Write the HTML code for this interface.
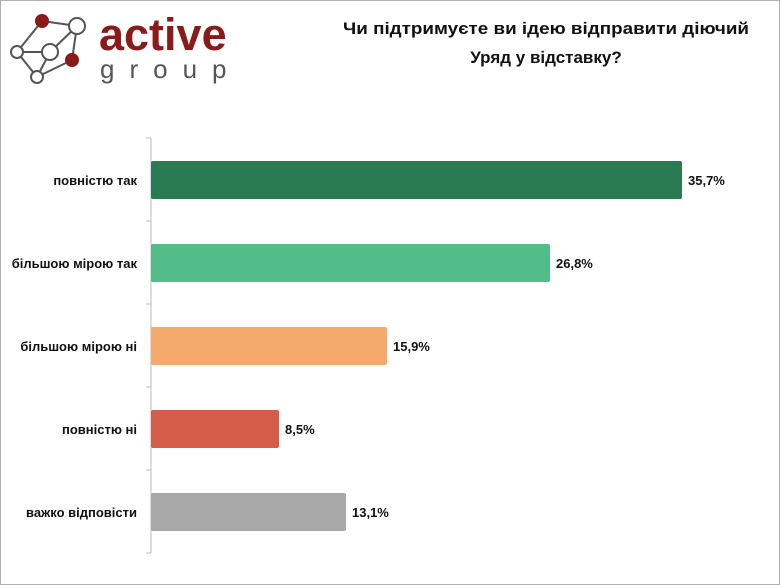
<!DOCTYPE html>
<html><head><meta charset="utf-8"><style>
body{margin:0;width:780px;height:585px;overflow:hidden;background:#fff;font-family:"Liberation Sans","DejaVu Sans",sans-serif;}
.frame{position:absolute;left:0;top:0;width:778px;height:583px;border:1px solid #b0b0b0;}
</style></head><body>
<div class="frame"></div>
<svg width="780" height="585" style="position:absolute;left:0;top:0">
<g stroke="#555" stroke-width="2" fill="#fff">
<line x1="42" y1="21" x2="77" y2="26"/><line x1="42" y1="21" x2="17" y2="52"/><line x1="77" y1="26" x2="72" y2="60"/>
<line x1="77" y1="26" x2="50" y2="52"/><line x1="17" y1="52" x2="50" y2="52"/><line x1="17" y1="52" x2="37" y2="77"/>
<line x1="50" y1="52" x2="37" y2="77"/><line x1="72" y1="60" x2="37" y2="77"/>
<circle cx="77" cy="26" r="8"/><circle cx="50" cy="52" r="8"/><circle cx="17" cy="52" r="6"/><circle cx="37" cy="77" r="6"/>
<circle cx="42" cy="21" r="6" fill="#8b1a1a" stroke="#8b1a1a"/><circle cx="72" cy="60" r="6" fill="#8b1a1a" stroke="#8b1a1a"/>
</g>
<text x="99" y="50" font-family="Liberation Sans" font-weight="bold" font-size="45" fill="#8b1a1a">active</text>
<text x="100" y="78" font-family="Liberation Sans" font-size="26" fill="#555" letter-spacing="15">group</text>
<line x1="151" y1="138" x2="151" y2="553" stroke="#bbb" stroke-width="1"/>
<g stroke="#bbb"><line x1="146" y1="138" x2="151" y2="138"/><line x1="146" y1="221" x2="151" y2="221"/><line x1="146" y1="304" x2="151" y2="304"/><line x1="146" y1="387" x2="151" y2="387"/><line x1="146" y1="470" x2="151" y2="470"/><line x1="146" y1="553" x2="151" y2="553"/></g>
<rect x="151" y="161" width="531" height="38" rx="2" fill="#2a7a52"/>
<rect x="151" y="244" width="399" height="38" rx="2" fill="#52bd88"/>
<rect x="151" y="327" width="236" height="38" rx="2" fill="#f3aa6a"/>
<rect x="151" y="410" width="128" height="38" rx="2" fill="#d45c48"/>
<rect x="151" y="493" width="195" height="38" rx="2" fill="#a9a9a9"/>
<g font-family="Liberation Sans" font-weight="bold" font-size="13" fill="#111">
<text x="688" y="185">35,7%</text><text x="556" y="268">26,8%</text><text x="393" y="351">15,9%</text><text x="285" y="434">8,5%</text><text x="352" y="517">13,1%</text>
<g text-anchor="end"><text x="137" y="185">повністю так</text><text x="137" y="268">більшою мірою так</text><text x="137" y="351">більшою мірою ні</text><text x="137" y="434">повністю ні</text><text x="137" y="517">важко відповісти</text></g>
</g>
<g font-family="Liberation Sans" font-weight="bold" font-size="17" fill="#111" text-anchor="middle">
<text x="546" y="34" textLength="406" lengthAdjust="spacingAndGlyphs">Чи підтримуєте ви ідею відправити діючий</text>
<text x="546" y="63">Уряд у відставку?</text></g>
</svg>
</body></html>
